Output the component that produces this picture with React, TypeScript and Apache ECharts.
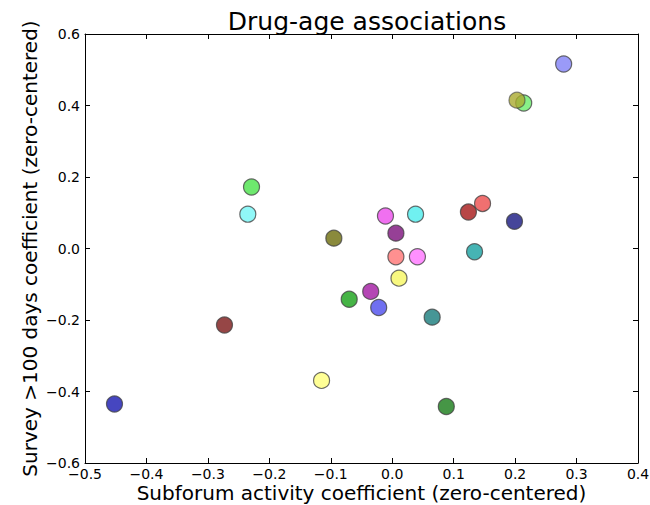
import React, { useEffect, useRef } from "react";
import * as echarts from "echarts";

const xValues = [0.279, 0.203, 0.214, -0.229, -0.235, -0.095, -0.011, 0.038, 0.006, 0.006, 0.041, 0.124, 0.147, 0.199, 0.134, 0.011, -0.035, -0.022, -0.070, 0.065, -0.273, -0.115, 0.088, -0.452];
const yValues = [0.516, 0.415, 0.407, 0.172, 0.096, 0.029, 0.091, 0.096, 0.043, -0.023, -0.023, 0.102, 0.126, 0.076, -0.009, -0.083, -0.120, -0.165, -0.142, -0.192, -0.214, -0.369, -0.442, -0.435];
const pointColors = ["#9a9af8", "#aaaa30", "#88f088", "#6ee86e", "#90f8f8", "#8a8a3c", "#f070f0", "#70f0f0", "#964096", "#ff9090", "#ff90ff", "#b84646", "#f07070", "#46469a", "#46b4b4", "#f8f880", "#b446b4", "#7070f0", "#46b446", "#469696", "#964646", "#ffff96", "#469646", "#4646c0"];
const drawOrder = [0, 2, 1, 3, 4, 5, 6, 7, 8, 9, 10, 11, 12, 13, 14, 15, 16, 17, 18, 19, 20, 21, 22, 23];

const FONT = "DejaVu Sans";
const fmt = (v: number) => (v < 0 ? "\u2212" + Math.abs(v).toFixed(1) : v.toFixed(1));

export default function App() {
  const ref = useRef<HTMLDivElement>(null);
  useEffect(() => {
    if (!ref.current) return;
    const chart = echarts.init(ref.current, undefined, { renderer: "svg" });
    const axisLine = { show: true, onZero: false, lineStyle: { color: "#000", width: 1 } };
    const axisTick = { show: true, inside: true, length: 5, lineStyle: { color: "#000", width: 1 } };
    const data = drawOrder.map((i) => ({
      value: [xValues[i], yValues[i]],
      itemStyle: { color: pointColors[i], opacity: i === 1 ? 0.8 : 1 },
    }));
    chart.setOption({
      animation: false,
      title: {
        text: "Drug-age associations",
        left: 362,
        textAlign: "center",
        top: 4,
        textStyle: { fontFamily: FONT, fontSize: 25, fontWeight: "normal", color: "#000" },
      },
      grid: { left: 85, top: 34, width: 553, height: 429, containLabel: false, outerBoundsMode: "none" },
      xAxis: [
        {
          type: "value", min: -0.5, max: 0.4, interval: 0.1, position: "bottom",
          name: "Subforum activity coefficient (zero-centered)", nameLocation: "middle", nameGap: 30,
          nameMoveOverlap: false,
          nameTextStyle: { fontFamily: FONT, fontSize: 20, verticalAlign: "middle", color: "#000" },
          axisLine, axisTick, splitLine: { show: false },
          axisLabel: { formatter: fmt, fontFamily: FONT, fontSize: 14, color: "#000", margin: 4, showMinLabel: true, showMaxLabel: true },
        },
        {
          type: "value", min: -0.5, max: 0.4, interval: 0.1, position: "top",
          axisLine, axisTick, splitLine: { show: false }, axisLabel: { show: false },
        },
      ],
      yAxis: [
        {
          type: "value", min: -0.6, max: 0.6, interval: 0.2, position: "left",
          name: "Survey >100 days coefficient (zero-centered)", nameLocation: "middle", nameGap: 45,
          nameMoveOverlap: false,
          nameTextStyle: { fontFamily: FONT, fontSize: 20, color: "#000" },
          axisLine, axisTick, splitLine: { show: false },
          axisLabel: { formatter: fmt, fontFamily: FONT, fontSize: 14, color: "#000", margin: 5, showMinLabel: true, showMaxLabel: true },
        },
        {
          type: "value", min: -0.6, max: 0.6, interval: 0.2, position: "right",
          axisLine, axisTick, splitLine: { show: false }, axisLabel: { show: false },
        },
      ],
      series: [
        {
          type: "scatter",
          xAxisIndex: 0,
          yAxisIndex: 0,
          symbolSize: 16,
          itemStyle: { borderColor: "rgba(60,60,60,0.75)", borderWidth: 1.2 },
          data,
        },
      ],
    });
    return () => chart.dispose();
  }, []);
  return <div ref={ref} style={{ position: "fixed", left: 0, top: 0, width: 650, height: 505, background: "#fff" }} />;
}
